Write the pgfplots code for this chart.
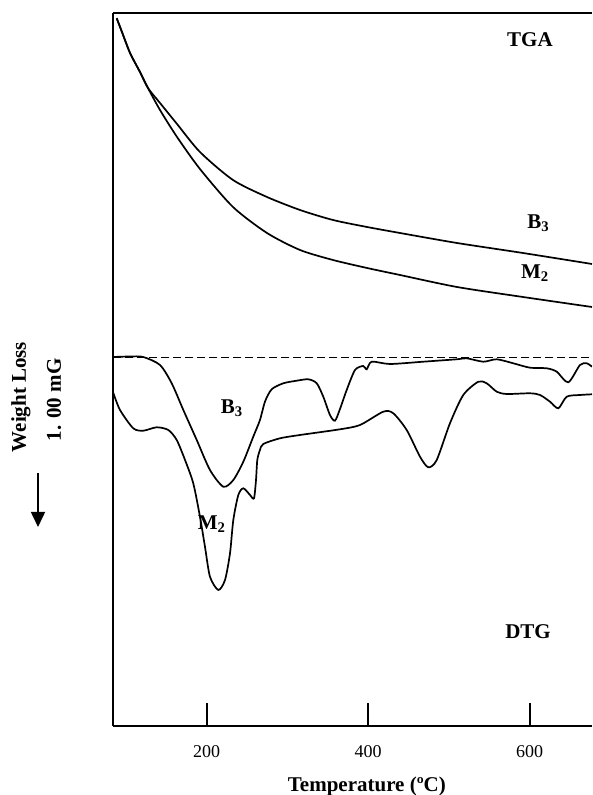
\documentclass[border=0pt]{standalone}
\usepackage{fontspec}
\setmainfont{Liberation Serif}
\usepackage{pgfplots}
\pgfplotsset{compat=1.18}
\usetikzlibrary{arrows.meta}
\newcommand{\lab}{\fontsize{21}{24}\selectfont\bfseries}
\tikzset{curve/.style={black, solid, line width=1.7pt, smooth, tension=0.45, mark=none}}
\begin{document}
\begin{tikzpicture}
\useasboundingbox (0,0) rectangle (592pt,795pt);
\begin{axis}[
  at={(113pt,69pt)}, anchor=south west,
  scale only axis, width=479pt, height=713pt,
  xmin=84, xmax=677.2, ymin=-726, ymax=-13,
  axis x line=box, axis y line=left,
  y axis line style={-},
  axis line style={line width=1.7pt},
  xtick={200,400,600}, ytick=\empty,
  xtick pos=bottom, tick align=inside,
  major tick length=23pt,
  xtick style={line width=1.8pt, black},
  /pgf/number format/assume math mode=true,
  tick label style={font=\fontsize{18}{20}\selectfont},
  xticklabel style={anchor=base, yshift=-32pt},
  xlabel={Temperature (ºC)},
  xlabel style={font=\lab, at={(axis description cs:0.53,0)}, anchor=base, yshift=-65pt},
]
% TGA B3
\addplot[curve] coordinates {(88.6,-18.3) (95.1,-32) (105.1,-53) (117.4,-72) (127.3,-88) (142.2,-103) (163.3,-124) (191.7,-152) (232.6,-180) (274.7,-197) (315.6,-210) (356.4,-220) (398.6,-227) (439.4,-233) (510,-243) (591.7,-253) (677.2,-264)};
% TGA M2
\addplot[curve] coordinates {(88.6,-18.3) (95.1,-32) (105.1,-53) (117.4,-72) (127.3,-88) (142.2,-110) (163.3,-137) (191.7,-169) (232.6,-207) (274.7,-233) (315.6,-250) (356.4,-260) (398.6,-268) (439.4,-275) (510,-287) (591.7,-297) (677.2,-307)};
% baseline
\addplot[black, line width=1.4pt, dash pattern=on 7.5pt off 4.5pt, mark=none] coordinates {(84,-357.5) (677.2,-357.5)};
% DTG B3
\addplot[curve] coordinates {(84,-357) (105.1,-356.5) (121.5,-357) (142.2,-365) (156.7,-383.3) (171.1,-410) (187.7,-440) (204.1,-470) (220.6,-486.7) (233.0,-480) (245.4,-461.7) (257.7,-436.7) (266.0,-420) (272.2,-401.7) (280.5,-389.3) (294.9,-383.3) (311.5,-380.7) (325.9,-379.3) (336.3,-383.3) (344.4,-396.7) (352.7,-415) (358.9,-420.7) (365.1,-409) (373.4,-390) (383.7,-370) (393.9,-366) (398.2,-369.3) (404.4,-361.7) (427.0,-364) (468.3,-361.7) (509.6,-359.3) (522.0,-358.3) (542.6,-361.7) (559.2,-359.3) (579.7,-363.3) (600.4,-367.7) (621.1,-368.3) (633.5,-371.7) (647.8,-382.3) (662.3,-365) (670.6,-363.3) (677.2,-366.7)};
% DTG M2
\addplot[curve] coordinates {(84,-392) (92.7,-410) (109.1,-428.3) (121.5,-430.7) (138.1,-427.3) (152.5,-430) (162.9,-440) (173.2,-460) (183.4,-483.3) (191.7,-516.7) (197.9,-546.7) (204.1,-576.7) (214.4,-590) (222.7,-580) (228.9,-553.3) (233.0,-520) (239.2,-495) (245.4,-488.3) (253.7,-495) (258.6,-498.3) (261.1,-480) (262.7,-460) (266.0,-450) (270.1,-444) (290.8,-438.3) (315.6,-435) (365.1,-429.3) (389.9,-425) (418.7,-411.7) (431.1,-413.3) (447.7,-430) (464.2,-456.7) (474.5,-467.3) (484.9,-460) (501.3,-423.3) (517.8,-395) (536.4,-381.7) (546.8,-383.3) (559.2,-391.7) (571.6,-394) (600.4,-393.3) (612.8,-395) (625.2,-401.7) (635.5,-408.3) (645.9,-396.7) (662.3,-395) (677.2,-394.3)};
\node[font=\lab] at (axis cs:600.4,-40) {TGA};
\node[font=\lab] at (axis cs:610.7,-223) {B\textsubscript{3}};
\node[font=\lab] at (axis cs:606.6,-273) {M\textsubscript{2}};
\node[font=\lab] at (axis cs:231.0,-408) {B\textsubscript{3}};
\node[font=\lab] at (axis cs:206.2,-524) {M\textsubscript{2}};
\node[font=\lab] at (axis cs:598,-632) {DTG};
\end{axis}
\node[font=\lab, rotate=90] at (21pt,398pt) {Weight Loss};
\node[font=\lab, rotate=90] at (54pt,395pt) {1. 00 mG};
\draw[line width=1.6pt, -{Triangle[width=14pt,length=15pt]}] (38pt,322pt) -- (38pt,268pt);
\end{tikzpicture}
\end{document}
